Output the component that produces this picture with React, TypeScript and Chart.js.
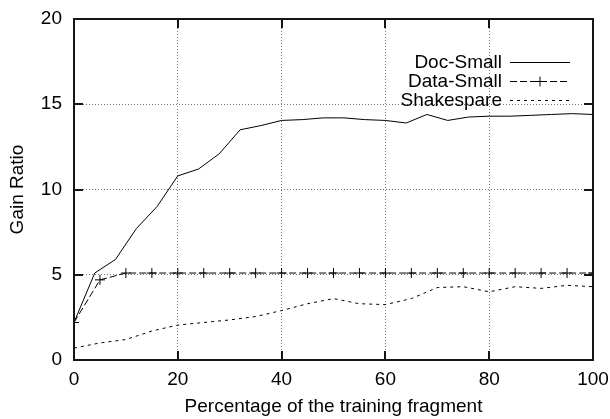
import React, { useEffect, useRef } from "react";
import { Chart, registerables } from "chart.js";

Chart.register(...registerables);

const docX = [0, 4, 8, 12, 16, 20, 24, 28, 32, 36, 40, 44, 48, 52, 56, 60, 64, 68, 72, 76, 80, 84, 88, 92, 96, 100];
const docY = [2.2, 5.1, 5.9, 7.7, 9.0, 10.8, 11.2, 12.1, 13.5, 13.75, 14.05, 14.1, 14.2, 14.2, 14.1, 14.05, 13.9, 14.4, 14.05, 14.25, 14.3, 14.3, 14.35, 14.4, 14.45, 14.4];

const dataX = [0, 5, 10, 15, 20, 25, 30, 35, 40, 45, 50, 55, 60, 65, 70, 75, 80, 85, 90, 95, 100];
const dataY = [2.2, 4.7, 5.1, 5.1, 5.1, 5.1, 5.1, 5.1, 5.1, 5.1, 5.1, 5.1, 5.1, 5.1, 5.1, 5.1, 5.1, 5.1, 5.1, 5.1, 5.1];

const shakeX = [0, 5, 10, 15, 20, 25, 30, 35, 40, 45, 50, 55, 60, 65, 70, 75, 80, 85, 90, 95, 100];
const shakeY = [0.7, 1.0, 1.2, 1.7, 2.05, 2.2, 2.35, 2.55, 2.9, 3.3, 3.6, 3.3, 3.25, 3.6, 4.25, 4.3, 4.0, 4.3, 4.2, 4.38, 4.3];

const seriesLabels = ["Doc-Small", "Data-Small", "Shakespare"];
const xTitle = "Percentage of the training fragment";
const yTitle = "Gain Ratio";

const FONT = "'Liberation Sans', Arial, Helvetica, sans-serif";
const FS = 19;
const FRAME = "#151515";

const zip = (xs: number[], ys: number[]) => xs.map((x, i) => ({ x, y: ys[i] }));

const framePlugin = {
  id: "frame",
  afterDraw(chart: any) {
    const ctx = chart.ctx as CanvasRenderingContext2D;
    const xs = chart.scales.x;
    const ys = chart.scales.y;
    const L = Math.round(xs.getPixelForValue(xs.min));
    const R = Math.round(xs.getPixelForValue(xs.max));
    const T = Math.round(ys.getPixelForValue(ys.max));
    const B = Math.round(ys.getPixelForValue(ys.min));
    ctx.save();
    ctx.strokeStyle = FRAME;
    const tl = 9;
    ctx.lineWidth = 2;
    ctx.setLineDash([]);
    ctx.beginPath();
    xs.ticks.forEach((t: any) => {
      const px = Math.round(xs.getPixelForValue(t.value));
      ctx.moveTo(px, B);
      ctx.lineTo(px, B - tl);
      ctx.moveTo(px, T);
      ctx.lineTo(px, T + tl);
    });
    ys.ticks.forEach((t: any) => {
      const py = Math.round(ys.getPixelForValue(t.value));
      ctx.moveTo(L, py);
      ctx.lineTo(L + tl, py);
      ctx.moveTo(R, py);
      ctx.lineTo(R - tl, py);
    });
    ctx.moveTo(L, T);
    ctx.lineTo(R, T);
    ctx.lineTo(R, B);
    ctx.lineTo(L, B);
    ctx.closePath();
    ctx.stroke();

    const textRight = 502;
    const sx0 = 510;
    const sx1 = 570;
    const rowY = [62.5, 81.5, 100.5];
    ctx.font = `${FS}px ${FONT}`;
    ctx.textAlign = "right";
    ctx.textBaseline = "middle";
    chart.data.datasets.forEach((ds: any, i: number) => {
      const yy = rowY[i];
      ctx.fillStyle = "#000";
      ctx.fillText(ds.label, textRight, yy);
      ctx.save();
      ctx.lineWidth = 1;
      ctx.strokeStyle = ds.borderColor;
      ctx.setLineDash(ds.borderDash || []);
      ctx.beginPath();
      ctx.moveTo(sx0, yy);
      ctx.lineTo(sx1, yy);
      ctx.stroke();
      if (ds.pointRadius > 0) {
        const cx = (sx0 + sx1) / 2;
        const r = ds.pointRadius;
        ctx.setLineDash([]);
        ctx.beginPath();
        ctx.moveTo(cx - r, yy);
        ctx.lineTo(cx + r, yy);
        ctx.moveTo(cx, yy - r);
        ctx.lineTo(cx, yy + r);
        ctx.stroke();
      }
      ctx.restore();
    });
    ctx.restore();
  },
};

export default function App() {
  const ref = useRef<HTMLCanvasElement | null>(null);
  useEffect(() => {
    document.body.style.margin = "0";
    const canvas = ref.current;
    if (!canvas) return;
    const chart = new Chart(canvas, {
      type: "line",
      data: {
        datasets: [
          {
            label: seriesLabels[0],
            data: zip(docX, docY),
            borderColor: "#000",
            borderWidth: 1,
            pointRadius: 0,
            fill: false,
            tension: 0,
          },
          {
            label: seriesLabels[1],
            data: zip(dataX, dataY),
            borderColor: "#000",
            borderWidth: 1,
            borderDash: [7, 3],
            pointStyle: "cross",
            pointRadius: 5,
            pointBorderWidth: 1,
            pointBorderColor: "#000",
            fill: false,
            tension: 0,
          },
          {
            label: seriesLabels[2],
            data: zip(shakeX, shakeY),
            borderColor: "#000",
            borderWidth: 1,
            borderDash: [3, 4],
            pointRadius: 0,
            fill: false,
            tension: 0,
          },
        ] as any,
      },
      options: {
        responsive: false,
        animation: false,
        devicePixelRatio: 1,
        layout: { padding: { top: 19, right: 17, left: 0, bottom: 0 } },
        plugins: {
          legend: { display: false },
          tooltip: { enabled: false },
        },
        scales: {
          x: {
            type: "linear",
            min: 0,
            max: 100,
            ticks: {
              stepSize: 20,
              color: "#000",
              font: { family: FONT, size: FS },
              padding: 8,
              maxRotation: 0,
            },
            grid: { color: "#777", lineWidth: 1, drawTicks: false },
            border: { display: false, dash: [1, 2] },
            title: {
              display: true,
              text: xTitle,
              color: "#000",
              font: { family: FONT, size: FS },
              padding: { top: 0, bottom: 1 },
            },
            afterFit: (s: any) => {
              s.height = 59;
              s.paddingLeft = 0;
              s.paddingRight = 0;
            },
          },
          y: {
            type: "linear",
            min: 0,
            max: 20,
            ticks: {
              stepSize: 5,
              color: "#000",
              font: { family: FONT, size: FS },
              padding: 12,
            },
            grid: { color: "#777", lineWidth: 1, drawTicks: false },
            border: { display: false, dash: [1, 2] },
            title: {
              display: true,
              text: yTitle,
              color: "#000",
              font: { family: FONT, size: FS },
              padding: { top: 6, bottom: 0 },
            },
            afterFit: (s: any) => {
              s.width = 74;
              s.paddingTop = 0;
              s.paddingBottom = 0;
            },
          },
        },
      } as any,
      plugins: [framePlugin],
    });
    return () => chart.destroy();
  }, []);
  return (
    <canvas ref={ref} width={610} height={419} style={{ display: "block", width: 610, height: 419 }} />
  );
}
